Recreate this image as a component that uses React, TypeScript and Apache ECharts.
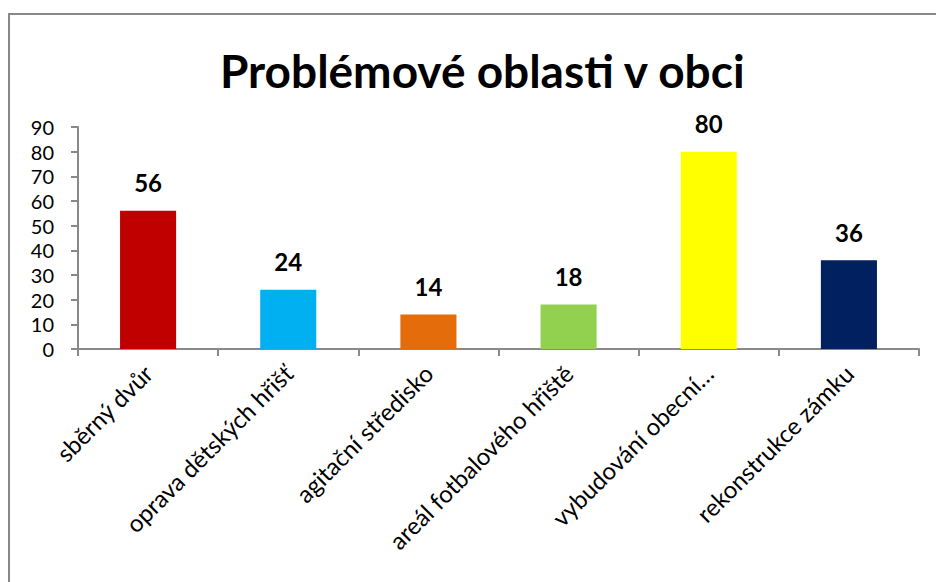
import React, { useEffect, useRef } from "react";
import * as echarts from "echarts";

const categories = [
  "sběrný dvůr",
  "oprava dětských hřišť",
  "agitační středisko",
  "areál fotbalového hřiště",
  "vybudování obecní…",
  "rekonstrukce zámku",
];
const values = [56, 24, 14, 18, 80, 36];
const barColors = ["#C00000", "#00B0F0", "#E46C0A", "#92D050", "#FFFF00", "#002060"];
const yTicks = { min: 0, max: 90, interval: 10 };

const FONT = "Lato, 'Open Sans', sans-serif";

export default function App() {
  const ref = useRef<HTMLDivElement>(null);
  useEffect(() => {
    if (!ref.current) return;
    const chart = echarts.init(ref.current, null, { renderer: "svg" });
    chart.setOption({
      animation: false,
      backgroundColor: "#ffffff",
      title: {
        text: "Problémové oblasti v obci",
        left: 215,
        top: 42,
        textStyle: { fontFamily: FONT, fontSize: 46, fontWeight: "bold", color: "#000" },
      },
      graphic: [
        {
          type: "rect",
          shape: { x: 9, y: 14, width: 960, height: 620 },
          style: { fill: "none", stroke: "#898989", lineWidth: 2 },
          silent: true,
        },
      ],
      grid: { left: 78, right: 17, top: 127, bottom: 233, containLabel: false },
      xAxis: {
        type: "category",
        data: categories,
        axisLine: { lineStyle: { color: "#898989", width: 2 } },
        axisTick: { show: true, alignWithLabel: false, length: 7, lineStyle: { color: "#898989", width: 2 } },
        axisLabel: {
          rotate: 45,
          interval: 0,
          margin: 20,
          fontFamily: FONT,
          fontSize: 24,
          color: "#000",
        },
      },
      yAxis: {
        type: "value",
        min: yTicks.min,
        max: yTicks.max,
        interval: yTicks.interval,
        splitLine: { show: false },
        axisLine: { show: true, lineStyle: { color: "#898989", width: 2 } },
        axisTick: { show: true, length: 7, lineStyle: { color: "#898989", width: 2 } },
        axisLabel: { fontFamily: FONT, fontSize: 20, lineHeight: 20, color: "#000", margin: 24 },
      },
      series: [
        {
          type: "bar",
          data: values.map((v, i) => ({ value: v, itemStyle: { color: barColors[i] } })),
          barWidth: "40%",
          label: {
            show: true,
            position: "top",
            distance: 16,
            fontFamily: FONT,
            fontSize: 24,
            fontWeight: "bold",
            color: "#000",
          },
        },
      ],
    });
    return () => chart.dispose();
  }, []);
  return (
    <div
      ref={ref}
      style={{ position: "absolute", left: 0, top: 0, width: 936, height: 582 }}
    />
  );
}
